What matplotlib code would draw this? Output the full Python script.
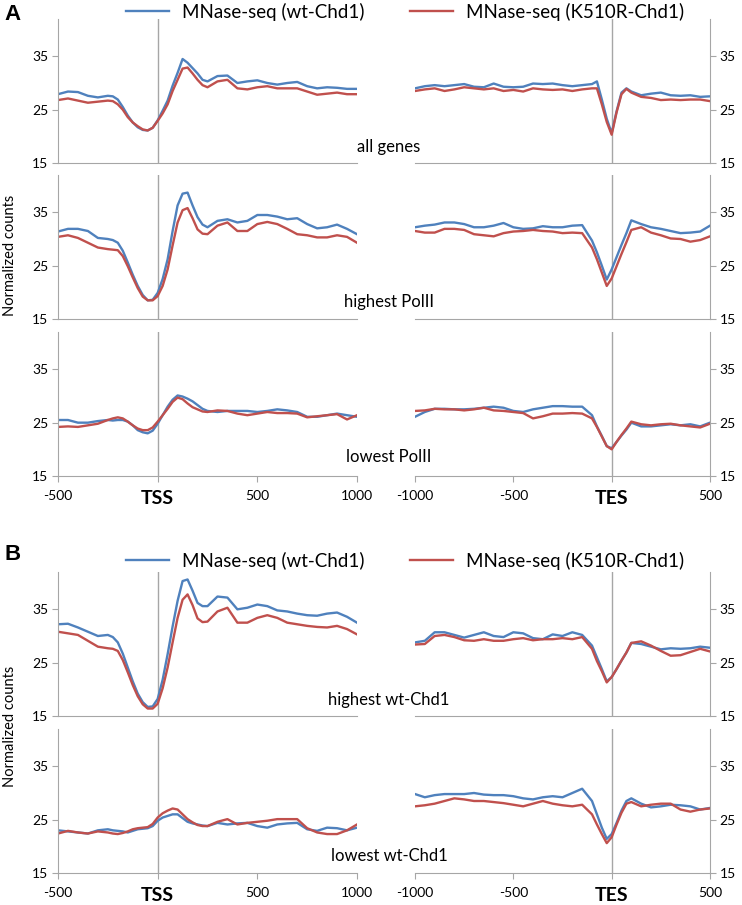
import matplotlib
matplotlib.use('Agg')
import matplotlib.pyplot as plt

plt.rcParams['font.family'] = ['Lato', 'DejaVu Sans']

BLUE = '#4F81BD'
RED = '#C0504D'
GREY = '#A6A6A6'

# positions around TSS (left column) and TES (right column)
x_tss = [-500, -450, -400, -350, -300,
         -250, -225, -200, -175, -150, -125, -100, -75, -50, -25, 0, 25, 50, 75, 100, 125, 150,
         175, 200, 225, 250,
         300, 350, 400, 450, 500, 550, 600, 650, 700, 750, 800, 850, 900, 950, 1000]
x_tes = [-1000, -950, -900, -850, -800, -750, -700, -650, -600, -550, -500, -450, -400,
         -350, -300, -250, -200, -150, -100, -75, -50, -25, 0, 25, 50, 75, 100,
         150, 200, 250, 300, 350, 400, 450, 500]

# --- panel A: all genes ---
all_tss_wt = [27.9, 28.4, 28.3, 27.6, 27.3,
              27.6, 27.5, 26.9, 25.5, 23.9, 22.6, 21.7, 21.2, 21.1, 21.6, 23.0, 24.8, 26.7, 29.5, 31.9,
              34.5, 33.8, 32.8, 31.8, 30.6, 30.3,
              31.3, 31.4, 30.0, 30.3, 30.5, 30.0, 29.7, 30.0, 30.2, 29.4, 29.0, 29.2, 29.1, 28.9, 28.9]
all_tss_k510r = [26.8, 27.1, 26.7, 26.3, 26.5,
                 26.7, 26.6, 26.0, 25.0, 23.6, 22.6, 21.9, 21.3, 21.1, 21.6, 22.9, 24.3, 26.0, 28.5, 30.6,
                 32.7, 32.9, 31.8, 30.6, 29.6, 29.2,
                 30.3, 30.6, 29.0, 28.8, 29.2, 29.4, 29.0, 29.0, 29.0, 28.4, 27.8, 28.0, 28.2, 27.9, 27.9]
all_tes_wt = [29.0, 29.4, 29.6, 29.4, 29.6, 29.8, 29.3, 29.2, 29.9, 29.3, 29.2, 29.3, 29.9,
              29.8, 29.9, 29.6, 29.4, 29.6, 29.8, 30.3, 26.9, 23.3, 20.6, 24.7, 28.2, 29.0, 28.4,
              27.7, 28.0, 28.2, 27.7, 27.6, 27.7, 27.4, 27.5]
all_tes_k510r = [28.5, 28.8, 29.0, 28.5, 28.8, 29.2, 29.0, 28.8, 29.0, 28.5, 28.7, 28.4, 29.0,
                 28.8, 28.7, 28.8, 28.5, 28.8, 29.0, 29.0, 26.0, 22.7, 20.3, 24.5, 27.9, 28.9, 28.2,
                 27.4, 27.2, 26.8, 26.9, 26.8, 26.9, 26.9, 26.6]

# --- panel A: highest PolII ---
hipol_tss_wt = [31.4, 31.9, 31.9, 31.5, 30.2,
                30.0, 29.8, 29.3, 27.8, 25.6, 23.3, 21.2, 19.5, 18.5, 18.6, 19.9, 22.5, 26.2, 31.5, 36.3,
                38.5, 38.7, 36.3, 34.1, 32.7, 32.2,
                33.4, 33.7, 33.1, 33.4, 34.5, 34.5, 34.2, 33.7, 33.9, 32.8, 32.0, 32.2, 32.7, 31.9, 30.9]
hipol_tss_k510r = [30.4, 30.7, 30.2, 29.3, 28.4,
                   28.1, 28.0, 27.9, 26.8, 24.9, 22.8, 20.8, 19.2, 18.5, 18.5, 19.3, 21.2, 24.3, 28.8, 33.1,
                   35.4, 35.8, 33.9, 31.8, 31.0, 30.9,
                   32.5, 33.1, 31.5, 31.5, 32.8, 33.2, 32.8, 31.9, 30.9, 30.7, 30.3, 30.3, 30.7, 30.4, 29.3]
hipol_tes_wt = [32.2, 32.5, 32.7, 33.1, 33.1, 32.8, 32.2, 32.2, 32.5, 33.0, 32.2, 31.9, 32.0,
                32.4, 32.2, 32.2, 32.5, 32.6, 29.7, 27.5, 25.0, 22.4, 24.3, 26.6, 28.9, 31.1, 33.5,
                32.8, 32.2, 31.9, 31.5, 31.1, 31.2, 31.4, 32.5]
hipol_tes_k510r = [31.5, 31.2, 31.2, 31.9, 31.9, 31.7, 30.9, 30.7, 30.5, 31.1, 31.4, 31.5, 31.7,
                   31.5, 31.4, 31.1, 31.2, 31.1, 28.4, 26.2, 23.7, 21.2, 22.6, 24.9, 27.2, 29.4, 31.7,
                   32.2, 31.2, 30.7, 30.1, 30.0, 29.5, 29.8, 30.5]

# --- panel A: lowest PolII ---
lopol_tss_wt = [25.5, 25.5, 25.0, 25.0, 25.3,
                25.5, 25.4, 25.5, 25.5, 25.2, 24.5, 23.6, 23.2, 23.0, 23.5, 24.8, 26.4, 28.0, 29.3, 30.1,
                29.9, 29.5, 29.0, 28.3, 27.6, 27.2,
                27.0, 27.2, 27.2, 27.2, 27.0, 27.2, 27.5, 27.3, 27.0, 26.1, 26.1, 26.4, 26.7, 26.4, 26.1]
lopol_tss_k510r = [24.2, 24.3, 24.2, 24.5, 24.8,
                   25.5, 25.8, 26.0, 25.8, 25.2, 24.5, 23.9, 23.6, 23.6, 24.1, 25.2, 26.4, 27.6, 28.9, 29.7,
                   29.4, 28.6, 27.9, 27.5, 27.1, 27.0,
                   27.3, 27.2, 26.7, 26.4, 26.7, 27.0, 26.8, 26.8, 26.7, 26.0, 26.2, 26.4, 26.6, 25.6, 26.4]
lopol_tes_wt = [26.1, 27.0, 27.6, 27.6, 27.5, 27.5, 27.6, 27.8, 28.0, 27.8, 27.2, 27.0, 27.5,
                27.8, 28.1, 28.1, 28.0, 28.0, 26.4, 24.3, 22.5, 20.6, 20.2, 21.4, 22.6, 23.7, 25.0,
                24.3, 24.3, 24.5, 24.7, 24.5, 24.7, 24.3, 25.0]
lopol_tes_k510r = [27.2, 27.3, 27.6, 27.5, 27.5, 27.3, 27.5, 27.8, 27.3, 27.2, 27.0, 26.8, 25.8,
                   26.2, 26.7, 26.7, 26.8, 26.7, 25.8, 24.2, 22.4, 20.6, 20.0, 21.4, 22.7, 23.9, 25.2,
                   24.7, 24.5, 24.7, 24.8, 24.5, 24.3, 24.1, 24.8]

# --- panel B: highest wt-Chd1 ---
hichd_tss_wt = [32.2, 32.3, 31.6, 30.8, 30.0,
                30.2, 29.8, 28.8, 26.7, 24.1, 21.5, 19.2, 17.6, 16.7, 16.8, 18.2, 21.8, 26.6, 31.8, 36.6,
                40.3, 40.6, 38.5, 36.2, 35.6, 35.6,
                37.4, 37.2, 35.0, 35.3, 35.9, 35.6, 34.8, 34.6, 34.2, 33.9, 33.8, 34.2, 34.4, 33.6, 32.5]
hichd_tss_k510r = [30.8, 30.5, 30.2, 29.1, 28.0,
                   27.7, 27.6, 27.2, 25.5, 23.2, 20.8, 18.7, 17.2, 16.4, 16.4, 17.3, 20.2, 24.1, 28.8, 33.4,
                   36.8, 37.8, 35.8, 33.3, 32.6, 32.7,
                   34.6, 35.3, 32.5, 32.5, 33.4, 33.9, 33.4, 32.5, 32.2, 31.9, 31.7, 31.6, 31.9, 31.3, 30.3]
hichd_tes_wt = [28.8, 29.1, 30.7, 30.7, 30.2, 29.7, 30.2, 30.7, 30.0, 29.8, 30.7, 30.5, 29.6,
                29.4, 30.3, 30.0, 30.7, 30.2, 28.2, 26.0, 23.8, 21.5, 22.3, 23.8, 25.4, 26.9, 28.7,
                28.5, 28.0, 27.5, 27.7, 27.6, 27.7, 28.0, 27.8]
hichd_tes_k510r = [28.4, 28.5, 30.0, 30.2, 29.8, 29.2, 29.1, 29.4, 29.1, 29.1, 29.4, 29.6, 29.2,
                   29.4, 29.4, 29.6, 29.4, 29.8, 27.6, 25.3, 23.4, 21.3, 22.3, 23.8, 25.4, 26.9, 28.7,
                   29.0, 28.2, 27.2, 26.3, 26.4, 27.0, 27.6, 27.1]

# --- panel B: lowest wt-Chd1 ---
lochd_tss_wt = [23.0, 22.8, 22.6, 22.4, 23.0,
                23.2, 23.0, 22.9, 22.8, 22.6, 22.9, 23.2, 23.3, 23.4, 23.8, 24.8, 25.4, 25.7, 26.0, 26.0,
                25.3, 24.6, 24.3, 24.1, 23.9, 23.8,
                24.4, 24.1, 24.3, 24.4, 23.8, 23.5, 24.1, 24.3, 24.4, 23.2, 22.9, 23.5, 23.4, 23.0, 23.5]
lochd_tss_k510r = [22.4, 22.9, 22.6, 22.4, 22.8,
                   22.6, 22.4, 22.3, 22.5, 22.8, 23.2, 23.4, 23.5, 23.6, 24.2, 25.4, 26.2, 26.7, 27.1, 26.9,
                   26.0, 25.1, 24.5, 24.0, 23.8, 23.8,
                   24.6, 25.1, 24.1, 24.4, 24.6, 24.8, 25.1, 25.1, 25.1, 23.4, 22.6, 22.3, 22.3, 23.0, 24.1]
lochd_tes_wt = [29.8, 29.2, 29.6, 29.8, 29.8, 29.8, 30.0, 29.7, 29.6, 29.6, 29.4, 29.0, 28.8,
                29.2, 29.4, 29.2, 30.0, 30.8, 28.5, 26.0, 23.5, 21.4, 22.3, 24.4, 26.7, 28.5, 29.0,
                28.0, 27.3, 27.5, 27.8, 27.7, 27.5, 26.9, 27.2]
lochd_tes_k510r = [27.5, 27.7, 28.0, 28.5, 29.0, 28.8, 28.5, 28.5, 28.3, 28.1, 27.8, 27.5, 28.0,
                   28.5, 28.0, 27.7, 27.5, 27.8, 26.0, 24.1, 22.3, 20.6, 21.7, 24.1, 26.3, 28.0, 28.3,
                   27.5, 27.8, 28.0, 28.0, 26.9, 26.5, 26.9, 27.1]

rows = [
    ('all genes', all_tss_wt, all_tss_k510r, all_tes_wt, all_tes_k510r, 163, False),
    ('highest PolII', hipol_tss_wt, hipol_tss_k510r, hipol_tes_wt, hipol_tes_k510r, 319, False),
    ('lowest PolII', lopol_tss_wt, lopol_tss_k510r, lopol_tes_wt, lopol_tes_k510r, 476, True),
    ('highest wt-Chd1', hichd_tss_wt, hichd_tss_k510r, hichd_tes_wt, hichd_tes_k510r, 716, False),
    ('lowest wt-Chd1', lochd_tss_wt, lochd_tss_k510r, lochd_tes_wt, lochd_tes_k510r, 873, True),
]
label_y = [147, 302, 457, 700, 856]

W, H = 742, 905
fig = plt.figure(figsize=(W / 100, H / 100), dpi=100)


def add_ax(x0, x1, bottom, height=144):
    return fig.add_axes([x0 / W, 1 - bottom / H, (x1 - x0) / W, height / H])


def style(ax, side, xlim, ticks, labels, bottom_row):
    ax.set_xlim(*xlim)
    ax.set_ylim(15, 42)
    ax.set_yticks([15, 25, 35])
    ax.axvline(0, color=GREY, lw=1, zorder=1)
    for s in ['top', 'left', 'right']:
        ax.spines[s].set_visible(False)
    ax.spines['bottom'].set_color(GREY)
    ax.spines[side].set_visible(True)
    ax.spines[side].set_color(GREY)
    if side == 'right':
        ax.yaxis.tick_right()
    ax.tick_params(axis='y', direction='out', length=4, color=GREY, labelsize=10, pad=3)
    ax.set_xticks(ticks)
    if bottom_row:
        ax.set_xticklabels(labels)
        ax.tick_params(axis='x', direction='out', length=4, color=GREY, labelsize=10, pad=6)
        for lab in ax.get_xticklabels():
            if lab.get_text() in ('TSS', 'TES'):
                lab.set_fontweight('bold')
                lab.set_fontsize(14)
    else:
        ax.tick_params(axis='x', length=0, labelbottom=False)
    ax.patch.set_alpha(0)


handles = None
for (name, tss_wt, tss_k, tes_wt, tes_k, bottom, bottom_row), ly in zip(rows, label_y):
    axl = add_ax(58, 357, bottom)
    l1, = axl.plot(x_tss, tss_wt, color=BLUE, lw=1.7, label='MNase-seq (wt-Chd1)')
    l2, = axl.plot(x_tss, tss_k, color=RED, lw=1.7, label='MNase-seq (K510R-Chd1)')
    style(axl, 'left', (-500, 1000), [-500, 0, 500, 1000], ['-500', 'TSS', '500', '1000'], bottom_row)
    handles = [l1, l2]

    axr = add_ax(415, 710, bottom)
    axr.plot(x_tes, tes_wt, color=BLUE, lw=1.7)
    axr.plot(x_tes, tes_k, color=RED, lw=1.7)
    style(axr, 'right', (-1000, 500), [-1000, -500, 0, 500], ['-1000', '-500', 'TES', '500'], bottom_row)

    fig.text(389 / W, 1 - ly / H, name, ha='center', va='center', fontsize=12)

for ypix in [12, 561]:
    fig.legend(handles, [h.get_label() for h in handles], loc='center',
               bbox_to_anchor=(405 / W, 1 - ypix / H), ncol=2, frameon=False,
               fontsize=13.5, handlelength=2.3, handletextpad=0.7, columnspacing=2.4)

fig.text(4 / W, 1 - 15 / H, 'A', fontsize=16, fontweight='bold', family='Liberation Sans', va='center')
fig.text(4 / W, 1 - 555 / H, 'B', fontsize=16, fontweight='bold', family='Liberation Sans', va='center')

fig.text(10 / W, 1 - 255 / H, 'Normalized counts', rotation=90, ha='center', va='center', fontsize=10.5)
fig.text(10 / W, 1 - 726 / H, 'Normalized counts', rotation=90, ha='center', va='center', fontsize=10.5)

fig.savefig('out.png', dpi=100)
